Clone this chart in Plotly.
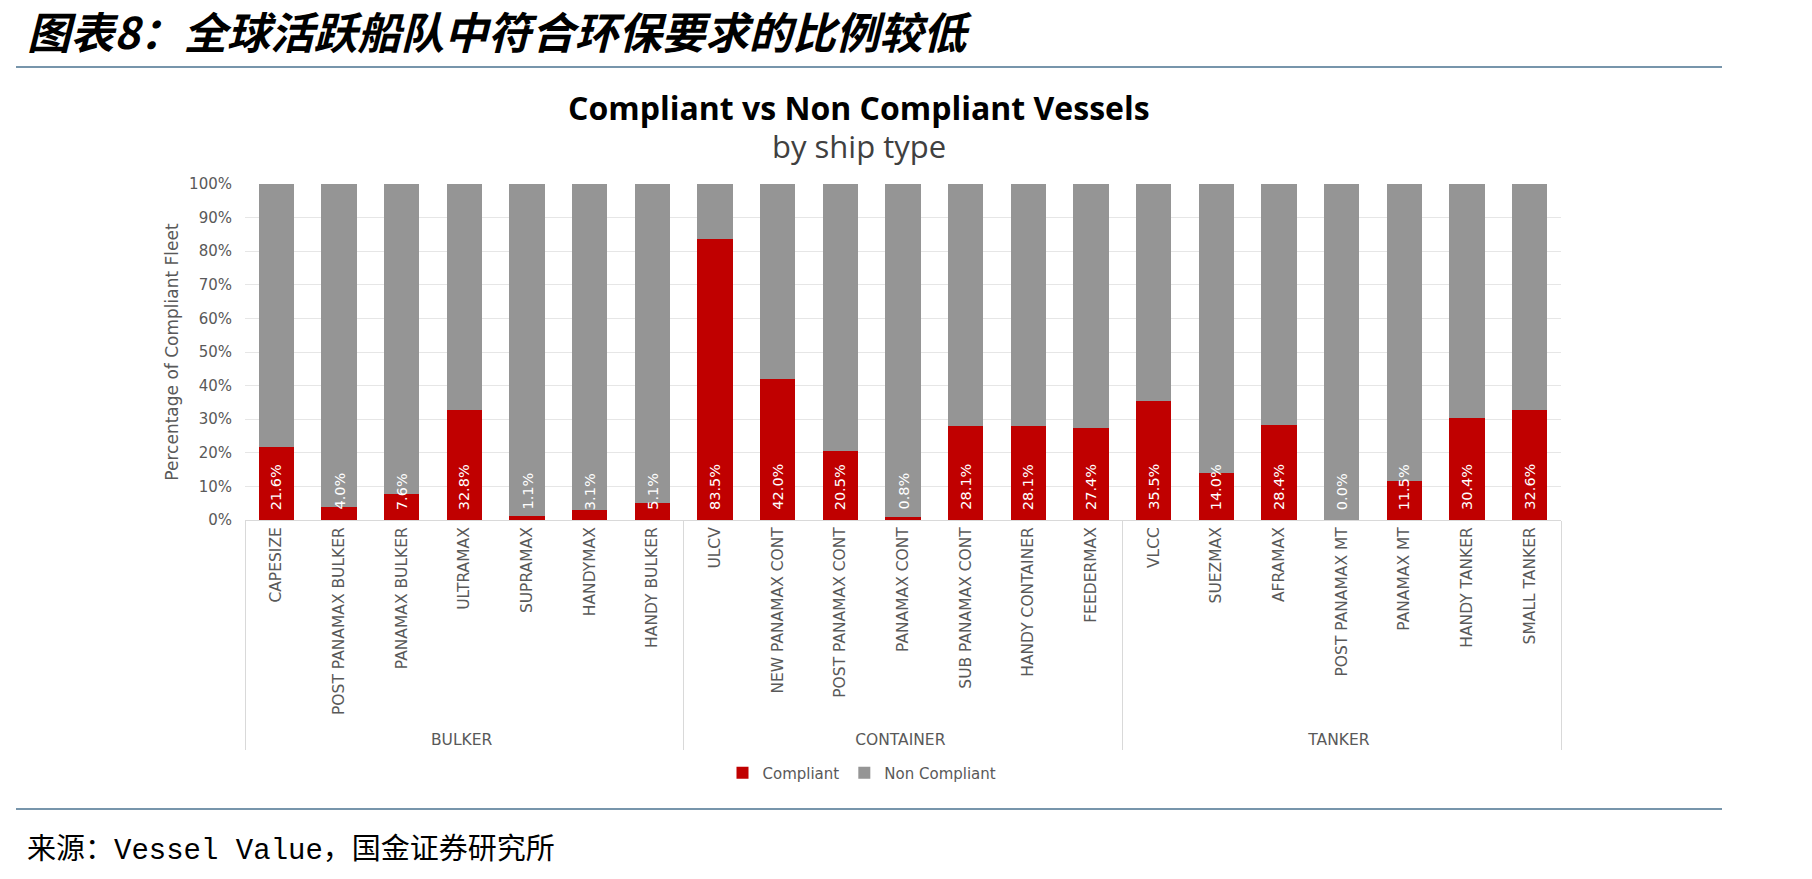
import plotly.graph_objects as go

groups = ["BULKER"] * 7 + ["CONTAINER"] * 7 + ["TANKER"] * 7
ship_types = [
    "CAPESIZE", "POST PANAMAX BULKER", "PANAMAX BULKER", "ULTRAMAX", "SUPRAMAX", "HANDYMAX", "HANDY BULKER",
    "ULCV", "NEW PANAMAX CONT", "POST PANAMAX CONT", "PANAMAX CONT", "SUB PANAMAX CONT", "HANDY CONTAINER", "FEEDERMAX",
    "VLCC", "SUEZMAX", "AFRAMAX", "POST PANAMAX MT", "PANAMAX MT", "HANDY TANKER", "SMALL TANKER",
]
compliant = [21.6, 4.0, 7.6, 32.8, 1.1, 3.1, 5.1,
             83.5, 42.0, 20.5, 0.8, 28.1, 28.1, 27.4,
             35.5, 14.0, 28.4, 0.0, 11.5, 30.4, 32.6]
non_compliant = [round(100 - v, 1) for v in compliant]
y_ticks = [0, 10, 20, 30, 40, 50, 60, 70, 80, 90, 100]
y_tick_labels = [f"{v}%" for v in y_ticks]

W, H = 1812, 879
L, R, T, B = 245, 1561, 184, 520


def px(xp):
    return (xp - L) / (R - L)


def py(yp):
    return (B - yp) / (B - T)


RED = "#C00000"
GREY = "#959595"
LABEL = "#595959"
FONT = "DejaVu Sans"

fig = go.Figure()
fig.add_trace(go.Bar(x=[groups, ship_types], y=compliant, name="Compliant",
                     marker=dict(color=RED, line=dict(width=0))))
fig.add_trace(go.Bar(x=[groups, ship_types], y=non_compliant, name="Non Compliant",
                     marker=dict(color=GREY, line=dict(width=0))))

annotations = []
for i, v in enumerate(compliant):
    annotations.append(dict(x=i, y=0, xref="x", yref="y", text=f"{v:.1f}%",
                            textangle=-90, showarrow=False, xanchor="center", yanchor="bottom",
                            yshift=8, font=dict(family=FONT, size=14.5, color="#FFFFFF")))

# Titles and source
annotations += [
    dict(xref="paper", yref="paper", x=px(25), y=py(30), xanchor="left", yanchor="middle",
         text="图表8：全球活跃船队中符合环保要求的比例较低", showarrow=False,
         font=dict(family="Noto Sans CJK SC", size=43.5, color="#000000", weight="bold", style="italic")),
    dict(xref="paper", yref="paper", x=px(859), y=py(108), xanchor="center", yanchor="middle",
         text="<b>Compliant vs Non Compliant Vessels</b>", showarrow=False,
         font=dict(family="Open Sans", size=32, color="#000000")),
    dict(xref="paper", yref="paper", x=px(859), y=py(146), xanchor="center", yanchor="middle",
         text="by ship type", showarrow=False,
         font=dict(family="Open Sans", size=31, color="#404040")),
    dict(xref="paper", yref="paper", x=px(25), y=py(850), xanchor="left", yanchor="middle",
         text="来源：Vessel Value，国金证券研究所", showarrow=False,
         font=dict(family="Liberation Mono, Noto Sans CJK SC", size=29, color="#000000")),
]

shapes = [
    dict(type="line", xref="paper", yref="paper", x0=px(16), x1=px(1722), y0=py(67), y1=py(67),
         line=dict(color="#7795AB", width=2)),
    dict(type="line", xref="paper", yref="paper", x0=px(16), x1=px(1722), y0=py(809), y1=py(809),
         line=dict(color="#7795AB", width=2)),
]

fig.update_layout(
    width=W, height=H,
    margin=dict(l=L, r=W - R, t=T, b=H - B, autoexpand=False),
    paper_bgcolor="white", plot_bgcolor="white",
    barmode="stack", bargap=0.44,
    font=dict(family=FONT, size=15, color=LABEL),
    showlegend=True,
    legend=dict(orientation="h", x=px(862), xanchor="center", y=py(773), yanchor="middle",
                font=dict(family=FONT, size=15, color=LABEL), itemwidth=30,
                traceorder="normal"),
    annotations=annotations, shapes=shapes,
)
fig.update_xaxes(
    type="multicategory", tickangle=-90, showline=True, linecolor="#D9D9D9", linewidth=1,
    ticks="", showgrid=False, showdividers=True, dividercolor="#D9D9D9", dividerwidth=1,
    tickfont=dict(family=FONT, size=15.5, color=LABEL), automargin=False,
)
fig.update_yaxes(
    range=[0, 100], tickmode="array", tickvals=y_ticks, ticktext=y_tick_labels,
    showgrid=True, gridcolor="#E6E6E6",
    gridwidth=1, zeroline=False, showline=False, ticks="", ticklabelstandoff=12,
    tickfont=dict(family=FONT, size=15, color=LABEL), automargin=False,
    title=dict(text="Percentage of Compliant Fleet", standoff=6,
               font=dict(family=FONT, size=17, color=LABEL)),
)

fig.write_html("out.html")
